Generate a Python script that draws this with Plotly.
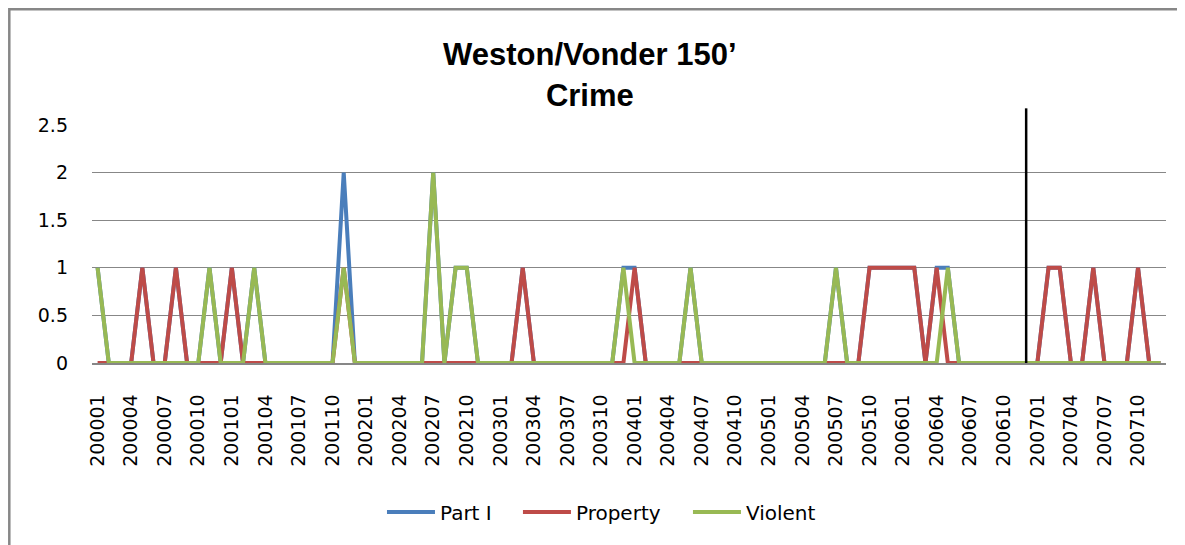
import plotly.graph_objects as go

# monthly categories 200001 .. 200712
months = [f"{y}{m:02d}" for y in range(2000, 2008) for m in range(1, 13)]
tick_months = months[::3]
marker_month = "200612"

part_one = [
    1, 0, 0, 0, 1, 0, 0, 1, 0, 0, 1, 0,
    1, 0, 1, 0, 0, 0, 0, 0, 0, 0, 2, 0,
    0, 0, 0, 0, 0, 0, 2, 0, 1, 1, 0, 0,
    0, 0, 1, 0, 0, 0, 0, 0, 0, 0, 0, 1,
    1, 0, 0, 0, 0, 1, 0, 0, 0, 0, 0, 0,
    0, 0, 0, 0, 0, 0, 1, 0, 0, 1, 1, 1,
    1, 1, 0, 1, 1, 0, 0, 0, 0, 0, 0, 0,
    0, 1, 1, 0, 0, 1, 0, 0, 0, 1, 0, 0,
]
property_crime = [
    0, 0, 0, 0, 1, 0, 0, 1, 0, 0, 0, 0,
    1, 0, 0, 0, 0, 0, 0, 0, 0, 0, 1, 0,
    0, 0, 0, 0, 0, 0, 0, 0, 0, 0, 0, 0,
    0, 0, 1, 0, 0, 0, 0, 0, 0, 0, 0, 0,
    1, 0, 0, 0, 0, 0, 0, 0, 0, 0, 0, 0,
    0, 0, 0, 0, 0, 0, 0, 0, 0, 1, 1, 1,
    1, 1, 0, 1, 0, 0, 0, 0, 0, 0, 0, 0,
    0, 1, 1, 0, 0, 1, 0, 0, 0, 1, 0, 0,
]
violent = [
    1, 0, 0, 0, 0, 0, 0, 0, 0, 0, 1, 0,
    0, 0, 1, 0, 0, 0, 0, 0, 0, 0, 1, 0,
    0, 0, 0, 0, 0, 0, 2, 0, 1, 1, 0, 0,
    0, 0, 0, 0, 0, 0, 0, 0, 0, 0, 0, 1,
    0, 0, 0, 0, 0, 1, 0, 0, 0, 0, 0, 0,
    0, 0, 0, 0, 0, 0, 1, 0, 0, 0, 0, 0,
    0, 0, 0, 0, 1, 0, 0, 0, 0, 0, 0, 0,
    0, 0, 0, 0, 0, 0, 0, 0, 0, 0, 0, 0,
]

font = "DejaVu Sans"
grid = "#878787"

fig = go.Figure()
fig.add_trace(go.Scatter(x=months, y=part_one, name="Part I", mode="lines",
                         line=dict(color="#4a7ebb", width=4), legend="legend"))
fig.add_trace(go.Scatter(x=months, y=property_crime, name="Property", mode="lines",
                         line=dict(color="#be4b48", width=4), legend="legend2"))
fig.add_trace(go.Scatter(x=months, y=violent, name="Violent", mode="lines",
                         line=dict(color="#98b954", width=4), legend="legend3"))

# event marker line, runs a little above the plot area
mx = months.index(marker_month)
fig.add_shape(type="line", xref="x", yref="paper", x0=mx, x1=mx,
              y0=0, y1=1.07, line=dict(color="black", width=2.5))
# outer chart frame (clipped at right and bottom in the reference)
fig.add_shape(type="rect", xref="paper", yref="paper", x0=-0.077, x1=1.05,
              y0=-0.85, y1=1.486, line=dict(color=grid, width=2.5), layer="below")

leg = dict(orientation="h", xanchor="left", y=-0.626, yanchor="middle",
           itemwidth=48, font=dict(size=20, family=font), bgcolor="rgba(0,0,0,0)")

fig.update_layout(
    width=1185, height=545,
    # page body adds 8px offset, so margins are reduced by 8 on left/top
    margin=dict(l=84, r=27, t=117, b=190),
    paper_bgcolor="white", plot_bgcolor="white",
    font=dict(family=font, color="black"),
    showlegend=True,
    title=dict(text="Weston/Vonder 150’<br>Crime", x=0.491, xanchor="center",
               y=0.895, yanchor="middle",
               font=dict(family="Liberation Sans", size=31, color="black", weight="bold")),
    legend=dict(leg, x=0.270),
    legend2=dict(leg, x=0.3966),
    legend3=dict(leg, x=0.5549),
    xaxis=dict(type="category", range=[-0.5, len(months) - 0.5], showgrid=False,
               showline=True, linecolor=grid, linewidth=1.5,
               tickvals=tick_months, ticktext=tick_months, tickangle=-90,
               tickfont=dict(size=19), ticklabelstandoff=22, ticks=""),
    yaxis=dict(range=[0, 2.5], dtick=0.5, gridcolor=grid, gridwidth=1.3,
               zeroline=False, showline=False, tickfont=dict(size=19),
               ticklabelstandoff=23, ticks=""),
)

fig.write_html("out.html")
